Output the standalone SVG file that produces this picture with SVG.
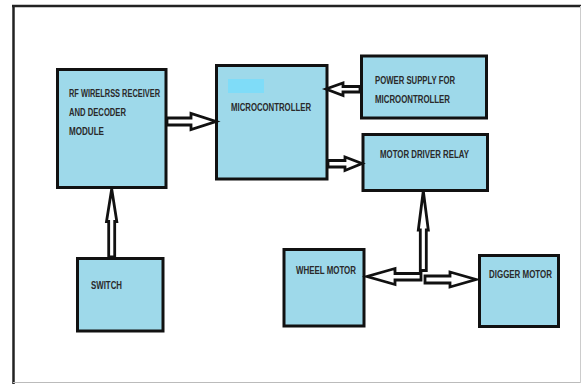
<svg xmlns="http://www.w3.org/2000/svg" width="581" height="384" viewBox="0 0 581 384">
<style>
.box{fill:#9ed9ea;stroke:#111;stroke-width:3}
.lbl{font-family:"Liberation Sans",Arial,sans-serif;font-size:11.5px;font-weight:bold;fill:#2a2a2a}
.arr{fill:#fff;stroke:#111;stroke-width:2.8;stroke-linejoin:miter}
</style>
<rect width="581" height="384" fill="#fff"/>
<g id="frame">
<line x1="13.5" y1="5" x2="13.5" y2="384" stroke="#222" stroke-width="2.5"/>
<line x1="12" y1="6" x2="581" y2="6" stroke="#222" stroke-width="2.5"/>
<line x1="13" y1="382.5" x2="581" y2="382.5" stroke="#bbb" stroke-width="1"/>
<line x1="580.5" y1="6" x2="580.5" y2="383" stroke="#ccc" stroke-width="1"/>
</g>
<g id="rf">
<rect class="box" x="57.5" y="69.5" width="108.5" height="118"/>
<text class="lbl" x="69" y="96.5" textLength="91" lengthAdjust="spacingAndGlyphs">RF WIRELRSS RECEIVER</text>
<text class="lbl" x="69" y="115.5" textLength="57" lengthAdjust="spacingAndGlyphs">AND DECODER</text>
<text class="lbl" x="69" y="134.5" textLength="35" lengthAdjust="spacingAndGlyphs">MODULE</text>
</g>
<g id="mc">
<rect class="box" x="216.5" y="65.5" width="110.5" height="113.5"/>
<rect x="228" y="79" width="36" height="14" fill="#7fdcf8"/>
<text class="lbl" x="231" y="110.5" textLength="80" lengthAdjust="spacingAndGlyphs">MICROCONTROLLER</text>
</g>
<g id="ps">
<rect class="box" x="361.5" y="56" width="125" height="62"/>
<text class="lbl" x="375" y="84" textLength="80" lengthAdjust="spacingAndGlyphs">POWER SUPPLY FOR</text>
<text class="lbl" x="375" y="103" textLength="75" lengthAdjust="spacingAndGlyphs">MICROONTROLLER</text>
</g>
<g id="mdr">
<rect class="box" x="363" y="134.5" width="124.5" height="56"/>
<text class="lbl" x="380" y="157.5" textLength="89" lengthAdjust="spacingAndGlyphs">MOTOR DRIVER RELAY</text>
</g>
<g id="switch">
<rect class="box" x="77.5" y="258.5" width="85.5" height="72.5"/>
<text class="lbl" x="91" y="288.5" textLength="31" lengthAdjust="spacingAndGlyphs">SWITCH</text>
</g>
<g id="wheel">
<rect class="box" x="284" y="249.5" width="80" height="76.5"/>
<text class="lbl" x="296" y="273.5" textLength="60" lengthAdjust="spacingAndGlyphs">WHEEL MOTOR</text>
</g>
<g id="digger">
<rect class="box" x="479.5" y="255.5" width="79" height="71"/>
<text class="lbl" x="489" y="277.5" textLength="63" lengthAdjust="spacingAndGlyphs">DIGGER MOTOR</text>
</g>
<g id="connectors">
<polygon class="arr" points="167,118 191,118 191,113.5 216,121.5 191,129.5 191,125 167,125"/>
<polygon class="arr" points="360,86.5 343,86.5 343,83 326,89 343,95.5 343,92 360,92"/>
<polygon class="arr" points="328,160.5 345,160.5 345,157 362,163.5 345,170.5 345,167 328,167"/>
<polygon class="arr" points="108.7,257 108.7,221.5 106.5,221.5 111.7,189 116.8,221.5 114.7,221.5 114.7,257"/>
<polygon class="arr" points="420.3,270.5 420.3,230 418.3,230 423.3,191 428.3,230 426.3,230 426.3,270.5"/>
<polygon class="arr" points="421,273.5 395,273.5 395,268.5 367,276.5 395,284.5 395,280 421,280"/>
<polygon class="arr" points="425,276 450,276 450,272 476,279.5 450,287 450,283 425,283"/>
</g>
</svg>
